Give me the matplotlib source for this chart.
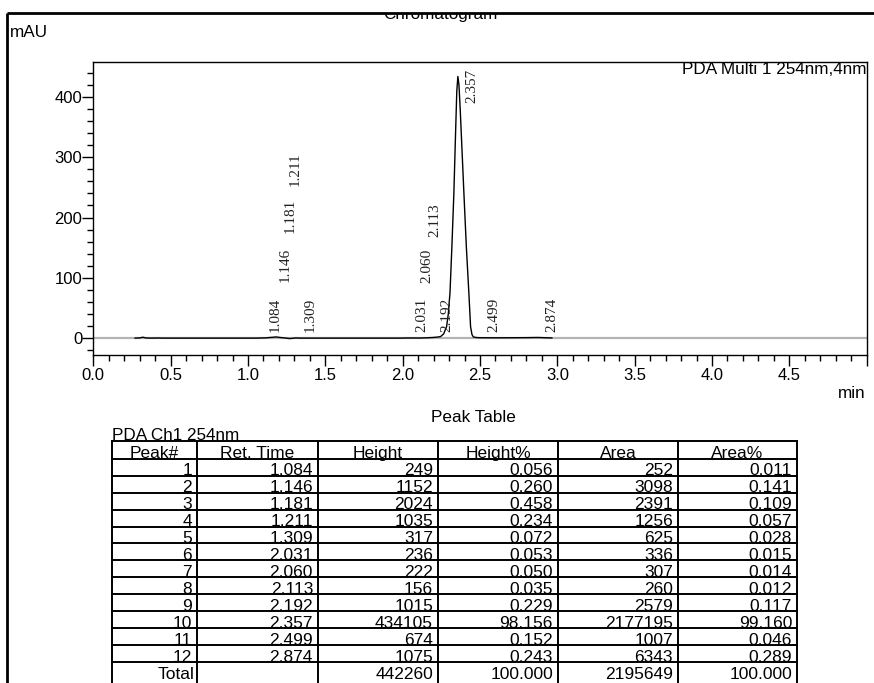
import matplotlib
matplotlib.use("Agg")
import matplotlib.pyplot as plt
from matplotlib.ticker import MultipleLocator, FixedLocator

# ---------------- data ----------------
peak_no = [1, 2, 3, 4, 5, 6, 7, 8, 9, 10, 11, 12]
ret_time = [1.084, 1.146, 1.181, 1.211, 1.309, 2.031, 2.060, 2.113, 2.192, 2.357, 2.499, 2.874]
height = [249, 1152, 2024, 1035, 317, 236, 222, 156, 1015, 434105, 674, 1075]
height_pct = [0.056, 0.260, 0.458, 0.234, 0.072, 0.053, 0.050, 0.035, 0.229, 98.156, 0.152, 0.243]
area = [252, 3098, 2391, 1256, 625, 336, 307, 260, 2579, 2177195, 1007, 6343]
area_pct = [0.011, 0.141, 0.109, 0.057, 0.028, 0.015, 0.014, 0.012, 0.117, 99.160, 0.046, 0.289]
total_height = 442260
total_height_pct = 100.000
total_area = 2195649
total_area_pct = 100.000

# chromatogram trace (min, mAU)
trace_time = [0.27, 0.30, 0.32, 0.34, 0.37, 0.42, 0.45, 1.06, 1.084, 1.11, 1.13, 1.146,
              1.165, 1.181, 1.195, 1.211, 1.24, 1.27, 1.29, 1.309, 1.33, 2.00, 2.031,
              2.060, 2.085, 2.113, 2.15, 2.192, 2.22, 2.245, 2.265, 2.284, 2.295, 2.306,
              2.318, 2.331, 2.342, 2.350, 2.357, 2.364, 2.372, 2.384, 2.396, 2.412,
              2.428, 2.439, 2.448, 2.457, 2.475, 2.499, 2.60, 2.80, 2.874, 2.93, 2.965]
trace_mau = [0.0, 0.3, 1.5, 0.3, 0.0, 0.2, 0.0, 0.0, 0.25, 0.3, 0.8, 1.15,
             1.5, 2.0, 1.5, 1.0, 0.2, -0.8, -0.3, 0.3, 0.0, 0.0, 0.24,
             0.22, 0.2, 0.16, 0.5, 1.0, 1.6, 2.5, 7.0, 19.0, 40.0, 75.0,
             150.0, 240.0, 340.0, 410.0, 434.0, 420.0, 380.0, 310.0, 240.0, 150.0,
             75.0, 19.0, 6.0, 2.0, 1.0, 0.67, 0.5, 0.8, 1.07, 0.6, 0.3]

# label stacking levels (mAU) for the peak annotations
label_level = [10, 93, 174, 252, 10, 10, 91, 168, 10, 390, 10, 10]

x_major = [0.0, 0.5, 1.0, 1.5, 2.0, 2.5, 3.0, 3.5, 4.0, 4.5, 5.0]
x_labels = ["0.0", "0.5", "1.0", "1.5", "2.0", "2.5", "3.0", "3.5", "4.0", "4.5", ""]
y_major = [0, 100, 200, 300, 400]

col_headers = ["Peak#", "Ret. Time", "Height", "Height%", "Area", "Area%"]

# ---------------- figure ----------------
W, H = 874, 683
fig = plt.figure(figsize=(W / 100, H / 100), dpi=100)
sans = "Liberation Sans"
serif = "Liberation Serif"

def fx(px):
    return px / W

def fy(py):
    return 1 - py / H

ax_l, ax_r, ax_t, ax_b = 93.3, 866.7, 62, 355
ax = fig.add_axes([fx(ax_l), fy(ax_b), fx(ax_r - ax_l), (ax_b - ax_t) / H])
ax.set_xlim(0, 5.0)
ax.set_ylim(-28, 458)

ax.axhline(0, color="#b4b4b4", lw=1.6, zorder=1)
ax.plot(trace_time, trace_mau, color="black", lw=1.0, zorder=2)

for rt, lvl in zip(ret_time, label_level):
    ax.annotate(f"{rt:.3f}", xy=(rt, lvl), xytext=(10.4, 0), textcoords="offset points",
                rotation=90, ha="center", va="bottom", fontsize=11, family=serif,
                color="#222222", zorder=3)

ax.xaxis.set_major_locator(FixedLocator(x_major))
ax.set_xticklabels(x_labels)
ax.xaxis.set_minor_locator(MultipleLocator(0.1))
ax.yaxis.set_major_locator(FixedLocator(y_major))
ax.yaxis.set_minor_locator(MultipleLocator(20))
ax.tick_params(which="major", direction="out", length=7.8, width=1.0, labelsize=12, pad=1.5)
ax.tick_params(axis="y", which="major", pad=0.2)
ax.tick_params(which="minor", direction="out", length=4.3, width=1.0)
for lab in ax.get_xticklabels() + ax.get_yticklabels():
    lab.set_family(sans)
for sp in ax.spines.values():
    sp.set_linewidth(1.0)

# ---------------- overlay in pixel coordinates ----------------
ov = fig.add_axes([0, 0, 1, 1], zorder=5)
ov.set_xlim(0, W)
ov.set_ylim(H, 0)
ov.axis("off")
ov.patch.set_alpha(0)

ov.text(440, 19.5, "Chromatogram", ha="center", va="baseline", fontsize=12.3, family=sans)
ov.add_patch(plt.Rectangle((0, 0), W, 13, color="white", zorder=6))
ov.plot([7, W + 5], [13, 13], color="black", lw=2.0, zorder=7, solid_capstyle="butt")
ov.plot([7, 7], [13, H + 5], color="black", lw=2.0, zorder=7, solid_capstyle="butt")

ov.text(10, 37, "mAU", ha="left", va="baseline", fontsize=12.3, family=sans)
ov.text(866, 74.5, "PDA Multi 1 254nm,4nm", ha="right", va="baseline", fontsize=12.3, family=sans)
ov.text(866, 398, "min", ha="right", va="baseline", fontsize=12.3, family=sans)

ov.text(473, 421.5, "Peak Table", ha="center", va="baseline", fontsize=12.3, family=sans)
ov.text(112, 440.3, "PDA Ch1 254nm", ha="left", va="baseline", fontsize=12.3, family=sans)

# table
col_x = [112, 197, 318, 438, 558, 678, 797]
top = 441.3
header_h = 17.4
row_h = 16.95
n_rows = len(peak_no) + 1
row_y = [top, top + header_h] + [top + header_h + row_h * (i + 1) for i in range(n_rows)]

# the reference table is cut by the page bottom: no closing line drawn
for y in row_y[:-1]:
    ov.plot([col_x[0], col_x[-1]], [y, y], color="black", lw=1.4, zorder=4)
for x in col_x:
    ov.plot([x, x], [top, H + 2], color="black", lw=1.4, zorder=4)

fs_tab = 12.5
for j, hdr in enumerate(col_headers):
    ov.text((col_x[j] + col_x[j + 1]) / 2, row_y[1] - 1.0, hdr, ha="center", va="baseline",
            fontsize=fs_tab, family=sans)

rows = []
for i in range(len(peak_no)):
    rows.append([str(peak_no[i]), f"{ret_time[i]:.3f}", str(height[i]), f"{height_pct[i]:.3f}",
                 str(area[i]), f"{area_pct[i]:.3f}"])
rows.append(["Total", "", str(total_height), f"{total_height_pct:.3f}", str(total_area),
             f"{total_area_pct:.3f}"])

for i, r in enumerate(rows):
    yb = row_y[i + 2] - 0.5
    for j, val in enumerate(r):
        pad = 2 if val == "Total" else 5
        ov.text(col_x[j + 1] - pad, yb, val, ha="right", va="baseline", fontsize=fs_tab,
                family=sans)

fig.savefig("out.png", dpi=100)
